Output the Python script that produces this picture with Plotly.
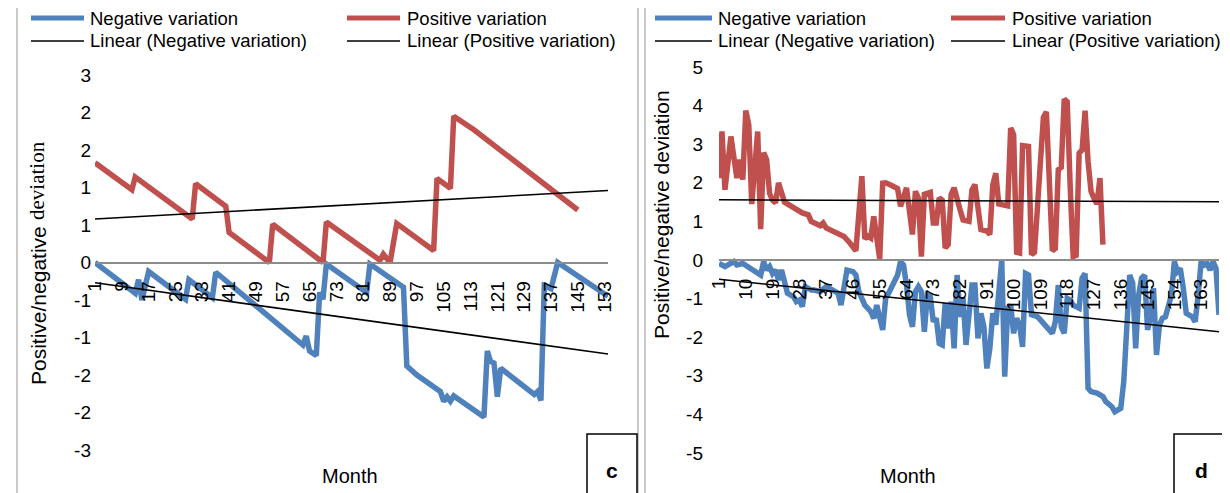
import plotly.graph_objects as go

# The page body adds an 8 px margin, so the figure is sized to fill the rest of the window.
OFF = 8
W, H = 1230 - OFF, 493 - OFF

# ---------------- Panel c data ----------------
c_neg_month = [1, 13, 14, 15, 17, 28, 29, 36, 37, 63, 64, 65, 67, 68, 69, 70, 82, 83, 93, 94,
               97, 104, 105, 106, 107, 108, 117, 118, 119, 120, 121, 122, 132, 133, 134, 135,
               137, 139, 154]
c_neg_val = [0.0, -0.41, -0.23, -0.50, -0.12, -0.49, -0.23, -0.47, -0.13, -1.10, -0.98, -1.18,
             -1.24, -0.40, -0.49, -0.02, -0.40, -0.02, -0.33, -1.38, -1.50, -1.72, -1.85,
             -1.79, -1.85, -1.78, -2.06, -1.18, -1.32, -1.34, -1.79, -1.41, -1.76, -1.72,
             -1.84, -0.31, -0.35, 0.0, -0.45]

c_pos_month = [1, 12, 13, 30, 31, 40, 41, 53, 54, 69, 70, 86, 87, 89, 91, 102, 103, 107, 108,
               114, 145]
c_pos_val = [1.33, 0.97, 1.14, 0.58, 1.05, 0.75, 0.40, 0.0, 0.51, 0.0, 0.54, 0.03, 0.11, 0.0,
             0.52, 0.16, 1.12, 0.99, 1.95, 1.77, 0.70]

c_trend_month = [1, 154]
c_neg_trend = [-0.27, -1.22]
c_pos_trend = [0.58, 0.96]

c_xticks = [1, 9, 17, 25, 33, 41, 49, 57, 65, 73, 81, 89, 97, 105, 113, 121, 129, 137, 145, 153]
c_yticks = [-2.5, -2.0, -1.5, -1.0, -0.5, 0.0, 0.5, 1.0, 1.5, 2.0, 2.5]
c_yticklabels = ["-3", "-2", "-2", "-1", "-1", "0", "1", "1", "2", "2", "3"]

# ---------------- Panel d data ----------------
d_pos_month = [1, 2, 3, 5, 7, 8, 9, 10, 11, 12, 14, 15, 16, 17, 18, 19, 20, 21, 23, 26, 29, 31,
               32, 35, 36, 37, 40, 43, 45, 47, 49, 50, 51, 52, 53, 55, 56, 57, 59, 61, 62, 64,
               66, 67, 68, 69, 70, 72, 73, 74, 75, 76, 77, 78, 79, 80, 82, 83, 85, 86, 87, 89,
               91, 92, 93, 94, 95, 98, 99, 100, 101, 102, 103, 105, 106, 107, 110, 111, 113,
               114, 115, 116, 117, 118, 119, 120, 121, 122, 123, 124, 125, 126, 127, 128, 129,
               130]
d_pos_val = [2.12, 3.33, 1.82, 3.2, 2.12, 2.6, 2.08, 3.87, 3.5, 1.45, 3.33, 0.8, 2.78, 2.6,
             1.72, 1.55, 1.48, 2.0, 1.5, 1.35, 1.22, 1.17, 1.0, 0.89, 0.96, 0.83, 0.72, 0.61,
             0.44, 0.24, 2.17, 0.55, 0.62, 0.57, 1.13, 0.02, 1.99, 2.0, 1.93, 1.85, 1.39, 1.87,
             0.66, 1.78, 1.6, 0.09, 1.7, 1.75, 0.96, 0.96, 1.61, 1.55, 0.31, 0.4, 1.7, 1.87,
             1.3, 1.04, 1.0, 1.82, 1.95, 0.79, 0.75, 0.66, 1.95, 2.25, 1.45, 1.4, 3.42, 3.25,
             0.2, 0.18, 2.96, 2.94, 0.14, 0.2, 3.7, 3.84, 0.24, 0.3, 2.34, 2.4, 4.17, 4.1, 1.9,
             0.09, 0.12, 2.77, 2.85, 3.87, 2.56, 1.78, 1.6, 1.45, 2.12, 0.4]

d_neg_month = [1, 3, 6, 7, 9, 12, 15, 16, 17, 18, 19, 20, 21, 22, 23, 24, 26, 27, 28, 29, 30,
               32, 33, 35, 37, 39, 41, 42, 43, 44, 46, 47, 48, 50, 51, 52, 53, 54, 56, 57, 58,
               60, 61, 62, 63, 64, 65, 66, 67, 68, 69, 70, 71, 72, 73, 74, 75, 76, 77, 78, 79,
               80, 81, 82, 83, 84, 85, 86, 87, 88, 89, 90, 91, 92, 93, 94, 96, 97, 98, 99, 100,
               101, 102, 103, 104, 105, 106, 108, 109, 111, 113, 114, 115, 116, 117, 118, 119,
               120, 122, 123, 124, 125, 126, 128, 130, 131, 133, 134, 136, 137, 138, 139, 140,
               141, 142, 143, 144, 145, 146, 147, 148, 149, 150, 151, 153, 154, 155, 156, 157,
               158, 160, 161, 162, 163, 164, 165, 166, 167, 168, 169]
d_neg_val = [-0.09, -0.17, -0.04, -0.13, -0.09, -0.26, -0.39, -0.04, -0.26, -0.17, -0.35,
             -0.26, -0.52, -0.26, -0.56, -0.86, -0.95, -1.08, -1.04, -1.21, -0.69, -0.78,
             -0.78, -0.82, -0.69, -0.78, -0.86, -1.17, -0.65, -0.26, -0.30, -0.39, -0.82,
             -1.17, -1.25, -1.34, -1.51, -1.17, -1.81, -0.99, -0.86, -0.56, -0.39, -0.04,
             -0.13, -0.65, -1.42, -1.73, -0.82, -0.69, -0.82, -1.86, -0.91, -0.95, -1.6,
             -1.51, -2.16, -2.2, -1.12, -1.77, -1.08, -2.29, -0.39, -1.47, -0.99, -2.2, -1.47,
             -0.65, -0.65, -2.03, -1.38, -1.73, -2.81, -2.29, -1.38, -1.68, 0.0, -3.02, -1.25,
             -1.17, -1.9, -1.51, -1.68, -2.25, -0.35, -0.39, -1.42, -1.47, -1.55, -1.73, -1.9,
             -1.6, -0.65, -1.73, -1.9, -0.99, -1.04, -1.17, -1.25, -0.47, -0.35, -3.32, -3.41,
             -3.45, -3.54, -3.67, -3.8, -3.93, -3.84, -3.15, -1.77, -0.39, -0.6, -2.29, -0.91,
             -0.47, -0.39, -1.81, -1.47, -0.73, -2.46, -1.68, -1.51, -1.47, -0.91, -0.04,
             -0.30, -0.22, -0.73, -1.38, -1.47, -1.6, -0.91, -0.04, -0.13, -0.09, -0.26, -0.04,
             -0.22, -1.42]

d_trend_month = [1, 169]
d_neg_trend = [-0.50, -1.86]
d_pos_trend = [1.56, 1.51]

d_xticks = [1, 10, 19, 28, 37, 46, 55, 64, 73, 82, 91, 100, 109, 118, 127, 136, 145, 154, 163]
d_yticks = [-5, -4, -3, -2, -1, 0, 1, 2, 3, 4, 5]

legend_labels = ["Negative variation", "Positive variation",
                 "Linear (Negative variation)", "Linear (Positive variation)"]
# left panel title mixes a sans part and a serif part
y_title_c_sans = "Positive/negative"
y_title_c_serif = "deviation"
y_title_d = "Positive/negative deviation"
x_title = "Month"
panel_letters = ["c", "d"]

# ---------------- styling ----------------
BLUE = "#4F81BD"
RED = "#C0504D"
AXIS_GRAY = "#8C8C8C"
BORDER_GRAY = "#A6A6A6"
SANS = "Liberation Sans, Arial, sans-serif"
SERIF = "Liberation Serif, Times New Roman, serif"


def fx(px):
    """screen pixel x -> paper fraction"""
    return (px - OFF) / W


def fy(py):
    """screen pixel y -> paper fraction"""
    return 1 - (py - OFF) / H


fig = go.Figure()


def add_panel(xa, ya, neg_m, neg_v, pos_m, pos_v, tm, tneg, tpos):
    fig.add_trace(go.Scatter(x=neg_m, y=neg_v, mode="lines", name=legend_labels[0],
                             line=dict(color=BLUE, width=5.5), xaxis=xa, yaxis=ya,
                             showlegend=False, hoverinfo="skip"))
    fig.add_trace(go.Scatter(x=pos_m, y=pos_v, mode="lines", name=legend_labels[1],
                             line=dict(color=RED, width=5.5), xaxis=xa, yaxis=ya,
                             showlegend=False, hoverinfo="skip"))
    fig.add_trace(go.Scatter(x=tm, y=tneg, mode="lines", name=legend_labels[2],
                             line=dict(color="black", width=1.6), xaxis=xa, yaxis=ya,
                             showlegend=False, hoverinfo="skip"))
    fig.add_trace(go.Scatter(x=tm, y=tpos, mode="lines", name=legend_labels[3],
                             line=dict(color="black", width=1.6), xaxis=xa, yaxis=ya,
                             showlegend=False, hoverinfo="skip"))


add_panel("x", "y", c_neg_month, c_neg_val, c_pos_month, c_pos_val,
          c_trend_month, c_neg_trend, c_pos_trend)
add_panel("x2", "y2", d_neg_month, d_neg_val, d_pos_month, d_pos_val,
          d_trend_month, d_neg_trend, d_pos_trend)

# plot-area geometry (screen pixels)
c_left, c_right, c_top, c_bot = 95, 608, 75, 450
d_left, d_right, d_top, d_bot = 719, 1219, 67, 453

c_ydom = [fy(c_bot), fy(c_top)]
d_ydom = [fy(d_bot), fy(d_top)]

tickfont = dict(family=SANS, size=19, color="black")

common_x = dict(showgrid=False, zeroline=False, showline=True, linecolor=AXIS_GRAY,
                linewidth=2, ticks="", tickangle=-90, tickfont=tickfont,
                ticklabelstandoff=10, automargin=False, fixedrange=True)
common_y = dict(showgrid=False, zeroline=False, showline=False, ticks="",
                tickfont=tickfont, automargin=False, fixedrange=True)

fig.update_layout(
    width=W, height=H,
    margin=dict(l=0, r=0, t=0, b=0),
    paper_bgcolor="white", plot_bgcolor="white",
    showlegend=False,
    xaxis=dict(domain=[fx(c_left), fx(c_right)], range=[1, 154], anchor="free",
               position=(c_ydom[0] + c_ydom[1]) / 2, tickmode="array",
               tickvals=c_xticks, ticktext=[str(t) for t in c_xticks], **common_x),
    yaxis=dict(domain=c_ydom, range=[-2.5, 2.5], anchor="x", tickmode="array",
               tickvals=c_yticks, ticktext=c_yticklabels, ticklabelstandoff=3, **common_y),
    xaxis2=dict(domain=[fx(d_left), fx(d_right)], range=[1, 169], anchor="free",
                position=(d_ydom[0] + d_ydom[1]) / 2, tickmode="array",
                tickvals=d_xticks, ticktext=[str(t) for t in d_xticks], **common_x),
    yaxis2=dict(domain=d_ydom, range=[-5, 5], anchor="x2", tickmode="array",
                tickvals=d_yticks, ticktext=[str(t) for t in d_yticks],
                ticklabelstandoff=15, **common_y),
)

shapes = []
annotations = []

# panel borders
for (x0, x1) in [(17, 638), (645, 1228)]:
    shapes.append(dict(type="rect", xref="paper", yref="paper", x0=fx(x0), x1=fx(x1),
                       y0=fy(500), y1=fy(7), line=dict(color=BORDER_GRAY, width=1.2),
                       fillcolor="rgba(0,0,0,0)", layer="below"))


# legends (manual, two rows per panel)
def legend_block(sx, tx, row_y):
    items = [(0, 0, BLUE, 5), (1, 0, RED, 5), (0, 1, "black", 1.6), (1, 1, "black", 1.6)]
    for idx, (col, row, color, width) in enumerate(items):
        y = row_y[row]
        x0, x1 = sx[col]
        shapes.append(dict(type="line", xref="paper", yref="paper", x0=fx(x0), x1=fx(x1),
                           y0=fy(y), y1=fy(y), line=dict(color=color, width=width)))
        annotations.append(dict(xref="paper", yref="paper", x=fx(tx[col]), y=fy(y),
                                text=legend_labels[idx], showarrow=False, xanchor="left",
                                yanchor="middle",
                                font=dict(family=SANS, size=18.5, color="black")))


legend_block([(31, 84), (347, 400)], [88, 405], [18, 41])
legend_block([(655, 712), (951, 1005)], [716, 1010], [18, 41])

# axis titles (left one in two fonts, placed end to end)
annotations.append(dict(xref="paper", yref="paper", x=fx(38), y=fy(306), text=y_title_c_sans,
                        textangle=-90, showarrow=False, xanchor="center", yanchor="middle",
                        font=dict(family=SANS, size=21, color="black")))
annotations.append(dict(xref="paper", yref="paper", x=fx(37), y=fy(181), text=y_title_c_serif,
                        textangle=-90, showarrow=False, xanchor="center", yanchor="middle",
                        font=dict(family=SERIF, size=21, color="black")))
annotations.append(dict(xref="paper", yref="paper", x=fx(661), y=fy(215), text=y_title_d,
                        textangle=-90, showarrow=False, xanchor="center", yanchor="middle",
                        font=dict(family=SANS, size=21, color="black")))
for cx in [350, 908]:
    annotations.append(dict(xref="paper", yref="paper", x=fx(cx), y=fy(476), text=x_title,
                            showarrow=False, xanchor="center", yanchor="middle",
                            font=dict(family=SANS, size=20, color="black")))

# panel letter boxes
for (x0, x1, letter) in [(587, 637, panel_letters[0]), (1174, 1228, panel_letters[1])]:
    shapes.append(dict(type="rect", xref="paper", yref="paper", x0=fx(x0), x1=fx(x1),
                       y0=fy(500), y1=fy(434), line=dict(color="black", width=1.5),
                       fillcolor="white"))
    annotations.append(dict(xref="paper", yref="paper", x=fx((x0 + x1) / 2), y=fy(470),
                            text="<b>" + letter + "</b>", showarrow=False, xanchor="center",
                            yanchor="middle", font=dict(family=SANS, size=21, color="black")))

fig.update_layout(shapes=shapes, annotations=annotations)
fig.write_html("out.html")
